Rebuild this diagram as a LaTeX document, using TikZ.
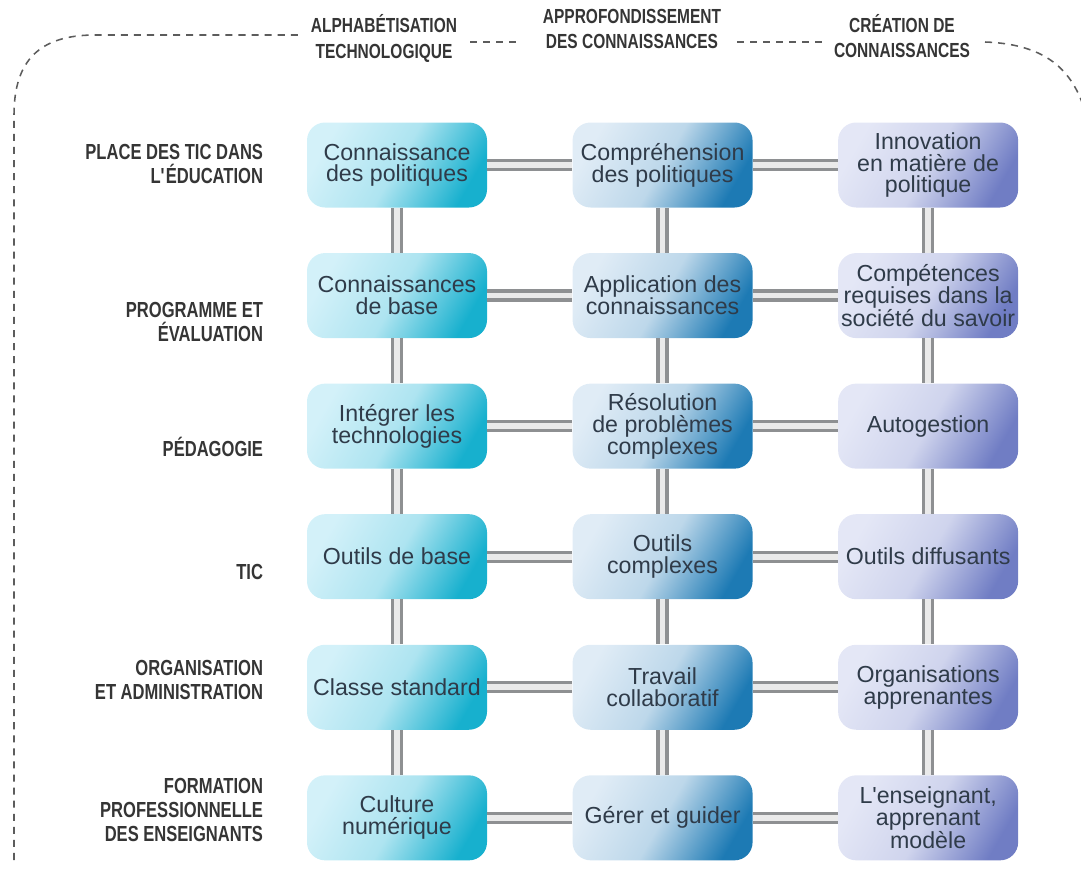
\documentclass[tikz,border=0pt]{standalone}
\usepackage{fontspec}
\setmainfont{Liberation Sans}
\newfontfamily\condfont[FakeStretch=0.76]{Liberation Sans}
\usepackage{xcolor}
\usepackage{tikz}
\usetikzlibrary{positioning}

\definecolor{cyanlight}{HTML}{D3F1F9}
\definecolor{cyandark}{HTML}{17B0CE}
\definecolor{bluelight}{HTML}{E0ECF6}
\definecolor{bluedark}{HTML}{1D7AB4}
\definecolor{lilaclight}{HTML}{E4E7F6}
\definecolor{lilacdark}{HTML}{707DC4}
\definecolor{boxtext}{HTML}{2F3B49}
\definecolor{labtext}{HTML}{353535}
\definecolor{tubegray}{HTML}{8E9092}
\definecolor{tubelight}{HTML}{EAEAEA}
\definecolor{dashgray}{HTML}{5C5C5C}

\tikzset{
  cell/.style={rectangle, rounded corners=0.45cm, minimum width=4.5cm, minimum height=2.125cm, inner sep=1pt, align=center, text=boxtext, font=\fontsize{16.5}{15.5}\selectfont},
  litbox/.style={cell, top color=cyanlight, bottom color=cyandark, middle color=cyanlight!80!cyandark, shading angle=60},
  deepbox/.style={cell, top color=bluelight, bottom color=bluedark, middle color=bluelight!82!bluedark, shading angle=60},
  creabox/.style={cell, top color=lilaclight, bottom color=lilacdark, middle color=lilaclight!82!lilacdark, shading angle=60},
  rowlab/.style={anchor=east, align=right, text=labtext, font=\condfont\bfseries\fontsize{15.5}{17}\selectfont},
  colhead/.style={align=center, text=labtext, font=\condfont\bfseries\fontsize{14.5}{18}\selectfont},
  tube/.style={draw=tubegray, line width=2.4pt, double=tubelight, double distance=4pt},
  frame/.style={draw=dashgray, line width=1.1pt, dash pattern=on 5pt off 4.3pt}
}

\begin{document}
\begin{tikzpicture}[node distance=1.125cm and 2.125cm]
		\useasboundingbox (0,0) rectangle (27.025,-22.05);

		% dashed frame
		\draw[frame] (0.35,-21.5) -- (0.35,-2.875) .. controls (0.35,-1.5) and (1.0,-0.875) .. (2.375,-0.875) -- (7.5,-0.875);
		\draw[frame] (11.75,-1.05) -- (12.95,-1.05);
		\draw[frame] (18.425,-1.05) -- (20.625,-1.05);
		\draw[frame] (24.625,-1.05) .. controls (26,-1.1) and (26.75,-1.625) .. (27.1,-2.7);

		% column headers
		\node[colhead] (halpha) at (9.6,-0.96) {ALPHABÉTISATION\\TECHNOLOGIQUE};
		\node[colhead] (happro) at (15.8,-0.72) {APPROFONDISSEMENT\\DES CONNAISSANCES};
		\node[colhead] (hcrea) at (22.55,-0.91) {CRÉATION DE\\CONNAISSANCES};

		% row labels
		\node[rowlab] (lplace) at (6.7,-4.1) {PLACE DES TIC DANS\\L\textquotesingle ÉDUCATION};
		\node[rowlab] (lprog) at (6.7,-8.05) {PROGRAMME ET\\ÉVALUATION};
		\node[rowlab] (lpeda) at (6.7,-11.175) {PÉDAGOGIE};
		\node[rowlab] (ltic) at (6.7,-14.3) {TIC};
		\node[rowlab] (lorga) at (6.7,-17.0) {ORGANISATION\\ET ADMINISTRATION};
		\node[rowlab] (lform) at (6.7,-20.25) {FORMATION\\PROFESSIONNELLE\\DES ENSEIGNANTS};

		% boxes
		\node[litbox] (connpol) at (9.925,-4.125) {Connaissance\\des politiques};
		\node[deepbox, right=of connpol] (comppol) {Compréhension\\des politiques};
		\node[creabox, right=of comppol] (innopol) {Innovation\\en matière de\\politique};

		\node[litbox, below=of connpol] (connbase) {Connaissances\\de base};
		\node[deepbox, right=of connbase] (applconn) {Application des\\connaissances};
		\node[creabox, right=of applconn] (compsoc) {Compétences\\requises dans la\\société du savoir};

		\node[litbox, below=of connbase] (integ) {Intégrer les\\technologies};
		\node[deepbox, right=of integ] (resol) {Résolution\\de problèmes\\complexes};
		\node[creabox, right=of resol] (autog) {Autogestion};

		\node[litbox, below=of integ] (outbase) {Outils de base};
		\node[deepbox, right=of outbase] (outcomp) {Outils\\complexes};
		\node[creabox, right=of outcomp] (outdiff) {Outils diffusants};

		\node[litbox, below=of outbase] (classe) {Classe standard};
		\node[deepbox, right=of classe] (travail) {Travail\\collaboratif};
		\node[creabox, right=of travail] (orgapp) {Organisations\\apprenantes};

		\node[litbox, below=of classe] (culture) {Culture\\numérique};
		\node[deepbox, right=of culture] (gerer) {Gérer et guider};
		\node[creabox, right=of gerer] (modele) {L\textquotesingle enseignant,\\apprenant\\modèle};

		% links
		\draw[tube] (connpol) -- (comppol);
		\draw[tube] (comppol) -- (innopol);
		\draw[tube] (connbase) -- (applconn);
		\draw[tube] (applconn) -- (compsoc);
		\draw[tube] (integ) -- (resol);
		\draw[tube] (resol) -- (autog);
		\draw[tube] (outbase) -- (outcomp);
		\draw[tube] (outcomp) -- (outdiff);
		\draw[tube] (classe) -- (travail);
		\draw[tube] (travail) -- (orgapp);
		\draw[tube] (culture) -- (gerer);
		\draw[tube] (gerer) -- (modele);

		\draw[tube] (connpol) -- (connbase);
		\draw[tube] (connbase) -- (integ);
		\draw[tube] (integ) -- (outbase);
		\draw[tube] (outbase) -- (classe);
		\draw[tube] (classe) -- (culture);
		\draw[tube] (comppol) -- (applconn);
		\draw[tube] (applconn) -- (resol);
		\draw[tube] (resol) -- (outcomp);
		\draw[tube] (outcomp) -- (travail);
		\draw[tube] (travail) -- (gerer);
		\draw[tube] (innopol) -- (compsoc);
		\draw[tube] (compsoc) -- (autog);
		\draw[tube] (autog) -- (outdiff);
		\draw[tube] (outdiff) -- (orgapp);
		\draw[tube] (orgapp) -- (modele);
	\end{tikzpicture}
\end{document}
